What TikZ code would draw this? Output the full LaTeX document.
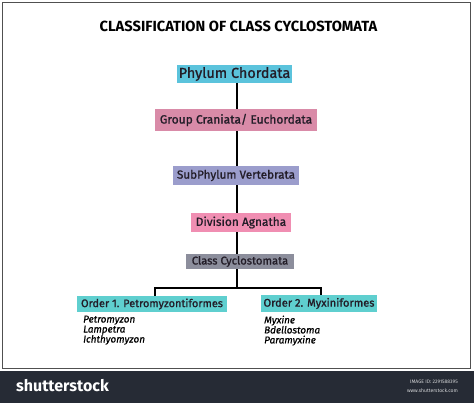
\documentclass[tikz,border=0pt]{standalone}
\usepackage{fontspec}
\setmainfont{Fira Sans}
\newfontfamily\medfont{Fira Sans}[FakeBold=1.2]
\newfontfamily\meditfont{Fira Sans Italic}[FakeBold=0.8]
\definecolor{cchord}{HTML}{5BC3DC}
\definecolor{ccran}{HTML}{D98BA8}
\definecolor{cvert}{HTML}{9B9DCC}
\definecolor{cagn}{HTML}{F08EB2}
\definecolor{ccyc}{HTML}{8C8E9C}
\definecolor{cord}{HTML}{5FCFCF}
\definecolor{ctext}{HTML}{231D28}
\definecolor{cframe}{HTML}{505050}
\definecolor{cfoot}{HTML}{262B35}
\tikzset{
  taxbox/.style={rectangle, inner sep=0pt, text=ctext, anchor=center},
  link/.style={line width=1.6pt, black},
  species/.style={anchor=north west, inner sep=0pt, align=left, font=\meditfont\fontsize{9.9}{10}\selectfont, text=black}
}
\begin{document}
\begin{tikzpicture}[x=1pt,y=-1pt]
\useasboundingbox (0,0) rectangle (474,403);
\fill[white] (0,0) rectangle (474,403);
% frame
\draw[cframe, line width=1.5pt] (2.5,2.5) rectangle (470.5,368.5);
% footer
\fill[cfoot] (0,371) rectangle (474,403);
\node[anchor=west, text=white, font=\fontsize{16}{16}\selectfont\bfseries, inner sep=0pt] (brand) at (16,386) {shutterstock};
\node[anchor=east, text=white!80!cfoot, font=\fontsize{5}{5}\selectfont, inner sep=0pt] (imgid) at (458,382) {IMAGE ID: 2291588395};
\node[anchor=east, text=white!80!cfoot, font=\fontsize{5}{5}\selectfont, inner sep=0pt] (www) at (458,391) {www.shutterstock.com};
% title
\node[font=\fontsize{14.7}{14.7}\selectfont\bfseries, text=black, inner sep=0pt] (title) at (238.5,26) {CLASSIFICATION OF CLASS CYCLOSTOMATA};
% boxes
\node[taxbox, fill=cchord, minimum width=115pt, minimum height=18pt, font=\medfont\fontsize{14.4}{14.4}\selectfont] (chord) at (234.5,74) {Phylum Chordata};
\node[taxbox, fill=ccran, minimum width=162pt, minimum height=22pt, font=\medfont\fontsize{12}{12}\selectfont] (cran) at (236,120) {Group Craniata/ Euchordata};
\node[taxbox, fill=cvert, minimum width=126pt, minimum height=19pt, font=\medfont\fontsize{11.7}{11.7}\selectfont] (vert) at (236,175.5) {SubPhylum Vertebrata};
\node[taxbox, fill=cagn, minimum width=100pt, minimum height=19pt, font=\medfont\fontsize{11.9}{11.9}\selectfont] (agn) at (241,222.5) {Division Agnatha};
\node[taxbox, fill=ccyc, minimum width=108pt, minimum height=15pt, font=\medfont\fontsize{11.2}{11.2}\selectfont] (cyc) at (240,261.5) {Class Cyclostomata};
\node[taxbox, fill=cord, minimum width=150pt, minimum height=16pt, font=\medfont\fontsize{10.9}{10.9}\selectfont] (ord1) at (152,304) {Order 1. Petromyzontiformes};
\node[taxbox, fill=cord, minimum width=116pt, minimum height=17pt, font=\medfont\fontsize{11.1}{11.1}\selectfont] (ord2) at (319,303.5) {Order 2. Myxiniformes};
% connectors
\coordinate (trunk) at (237,83);
\coordinate (fork) at (237,288);
\coordinate (left) at (155,288);
\coordinate (right) at (321,288);
\draw[link] (trunk) -- (cran.north -| trunk);
\draw[link] (cran.south -| trunk) -- (vert.north -| trunk);
\draw[link] (vert.south -| trunk) -- (agn.north -| trunk);
\draw[link] (agn.south -| trunk) -- (cyc.north -| trunk);
\draw[link] (cyc.south -| trunk) -- (fork);
\draw[link] (left |- ord1.north) -- (left) -- (right) -- (right |- ord2.north);
% species
\node[species] (sp1) at (83,315.5) {Petromyzon\\Lampetra\\Ichthyomyzon};
\node[species] (sp2) at (264,315.5) {Myxine\\Bdellostoma\\Paramyxine};
\end{tikzpicture}
\end{document}
